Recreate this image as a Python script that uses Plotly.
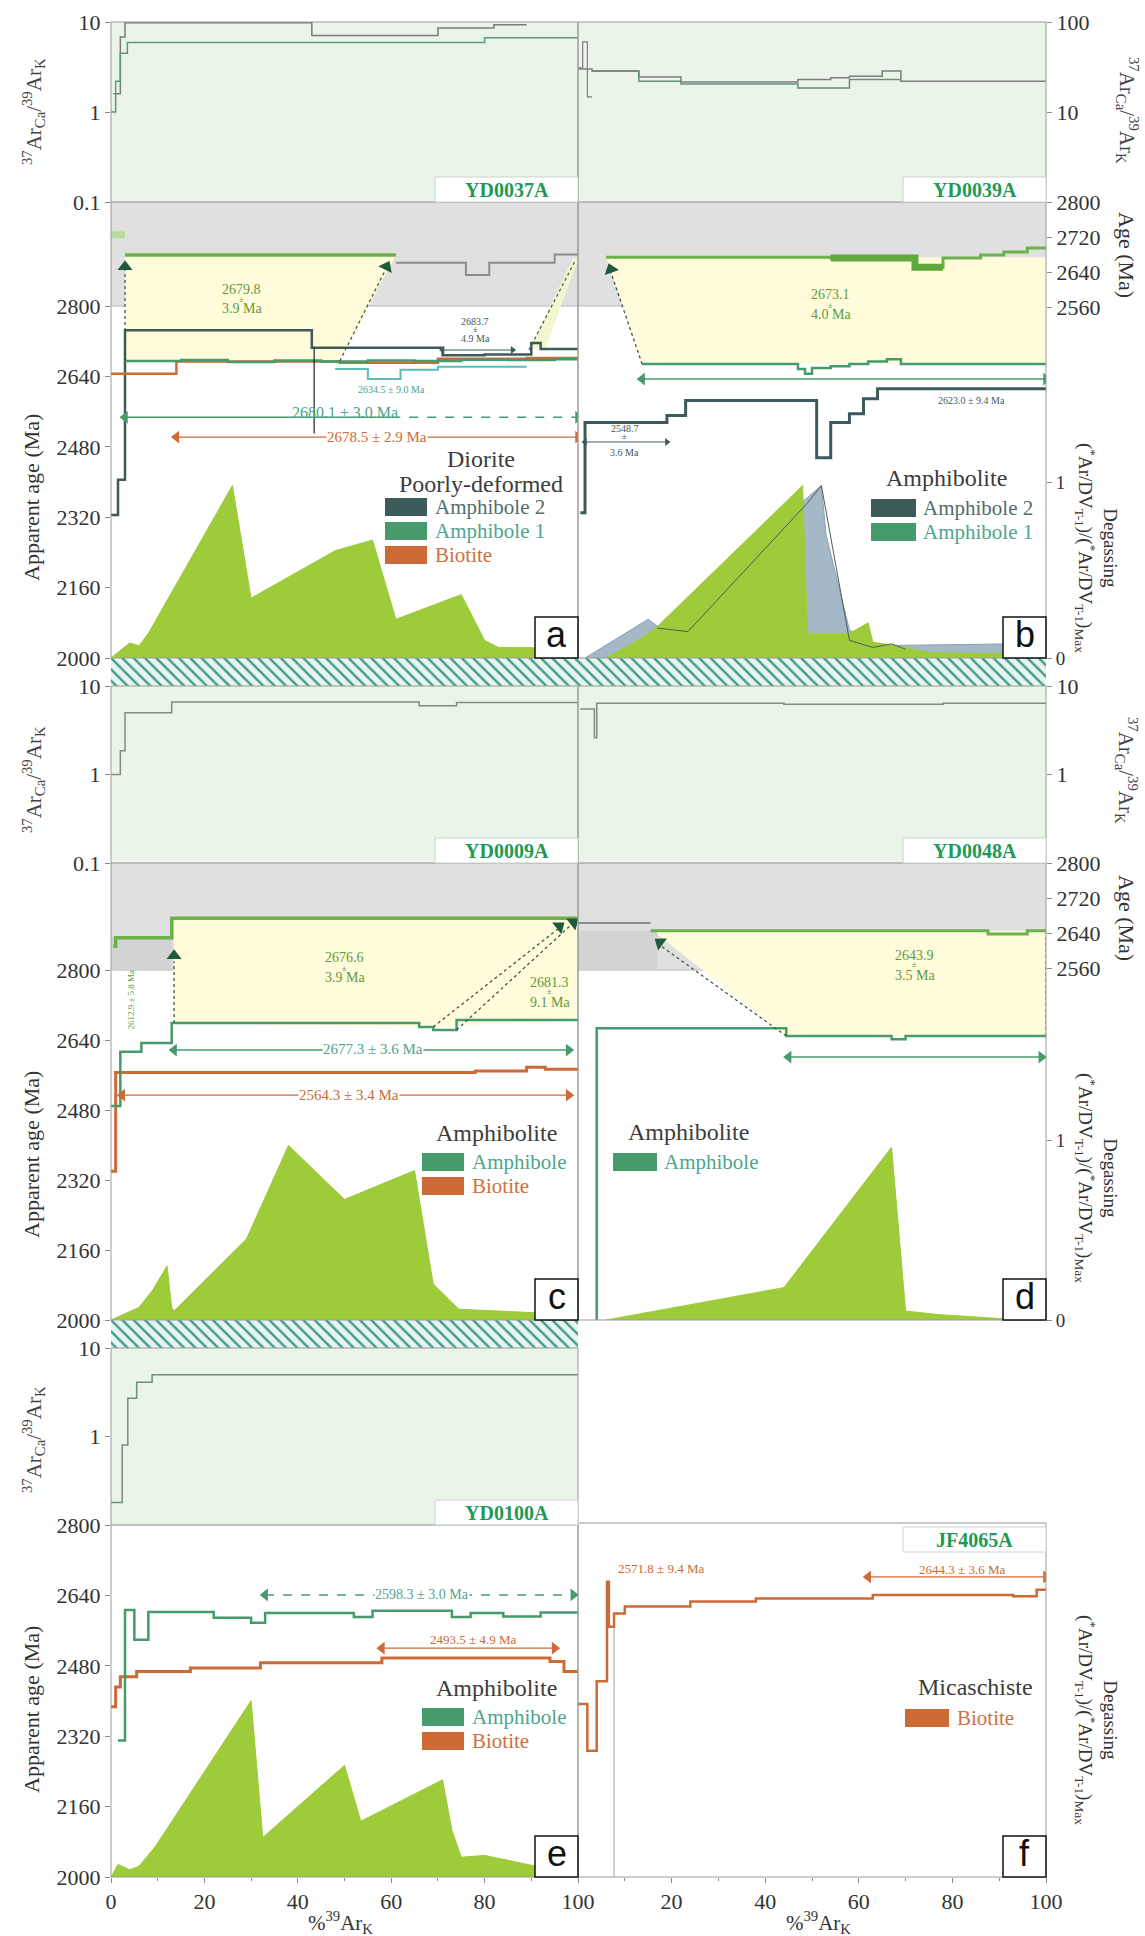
import plotly.graph_objects as go

W, H = 1145, 1936
SERIF = "Liberation Serif, DejaVu Serif, Times New Roman, serif"
SANS = "Liberation Sans, DejaVu Sans, Arial, sans-serif"

# ============================================================ DATA
x_ticks_left = [0, 20, 40, 60, 80, 100]
x_ticks_right = [20, 40, 60, 80, 100]
age_ticks = [2000, 2160, 2320, 2480, 2640, 2800]
band_ticks = [2560, 2640, 2720, 2800]
deg_ticks = [0, 1]
sample_names = {'a': 'YD0037A', 'b': 'YD0039A', 'c': 'YD0009A', 'd': 'YD0048A', 'e': 'YD0100A', 'f': 'JF4065A'}

# ---- (a) YD0037A
a_ratio_amph2_edges = [0.5, 2, 3, 43, 70, 82, 89]
a_ratio_amph2_vals = [1.6, 6.8, 9.8, 7.1, 8.6, 9.3]
a_ratio_amph1_edges = [0, 1, 2, 3.5, 80, 100]
a_ratio_amph1_vals = [1.0, 2.2, 4.5, 5.9, 6.7]
a_band_early_edges = [0, 3]
a_band_early_vals = [2725]
a_band_plat_edges = [3, 61]
a_band_plat_vals = [2679]
a_band_rest_edges = [61, 76, 81, 95, 100]
a_band_rest_vals = [2661, 2633, 2661, 2680]
a_amph1_edges = [3, 15, 25, 35, 45, 55, 65, 75, 85, 95, 100]
a_amph1_vals = [2675, 2677, 2673, 2676, 2674, 2676, 2675, 2678, 2677, 2679]
a_amph1b_edges = [48, 55, 62, 70, 89]
a_amph1b_vals = [2657, 2634, 2655, 2662]
a_amph2_edges = [0, 1.5, 3, 43, 71, 80, 90, 92, 100]
a_amph2_vals = [2325, 2405, 2745, 2705, 2688, 2690, 2716, 2702]
a_bio_edges = [0, 14, 49, 70, 89, 100]
a_bio_vals = [2646, 2674, 2671, 2680, 2682]
a_vline_x = [43.5, 43.5]
a_vline_y = [2705, 2510]
a_deg_x = [0, 4, 6, 8, 26, 30, 48, 56, 61, 75, 80, 83, 90, 100]
a_deg_y = [0, 0.085, 0.07, 0.14, 0.98, 0.34, 0.61, 0.67, 0.22, 0.36, 0.10, 0.06, 0.06, 0.02]
a_plateau = ['2679.8', '3.9 Ma']
a_age_amph1 = '2680.1 ± 3.0 Ma'
a_age_bio = '2678.5 ± 2.9 Ma'
a_age_amph1b = '2634.5 ± 9.0 Ma'
a_age_amph2 = ['2683.7', '4.9 Ma']

# ---- (b) YD0039A
b_ratio_a_edges = [0, 3, 13, 22, 47, 54, 58, 65, 69, 100]
b_ratio_a_vals = [30, 28.5, 24.5, 21.5, 23, 24, 25, 28.5, 22]
b_ratio_b_edges = [3, 13, 22, 47, 58, 69]
b_ratio_b_vals = [28.5, 22, 20.5, 18.5, 23]
b_ratio_spike_edges = [0, 1, 2, 3]
b_ratio_spike_vals = [31, 60, 14.7]
b_band_edges = [6, 54, 71, 72, 78, 86, 91, 96, 100]
b_band_vals = [2674, 2672, 2672, 2651, 2672, 2679, 2686, 2695]
b_band_thick_edges = [54, 71, 72, 78]
b_band_thick_vals = [2672, 2672, 2651]
b_amph1_edges = [13.7, 47, 48.5, 50, 54, 58, 62, 66, 69, 100]
b_amph1_vals = [2668, 2657, 2646, 2659, 2663, 2668, 2674, 2679, 2668]
b_amph2_edges = [0.5, 1.5, 19, 23, 51, 54, 58, 61, 64, 100]
b_amph2_vals = [2330, 2535, 2551, 2585, 2455, 2535, 2555, 2589, 2612]
b_deg_amph1_x = [6, 14, 17, 48, 49, 58, 62, 63, 68, 75, 100]
b_deg_amph1_y = [0, 0.12, 0.18, 0.98, 0.14, 0.14, 0.20, 0.09, 0.07, 0.03, 0.02]
b_deg_amph2_x = [1.5, 15, 17, 52, 53, 58, 63, 92, 100]
b_deg_amph2_y = [0, 0.22, 0.18, 0.98, 0.70, 0.16, 0.07, 0.08, 0.06]
b_deg_line_x = [17, 23.5, 49, 52, 58, 63, 67, 70]
b_deg_line_y = [0.17, 0.15, 0.88, 0.98, 0.10, 0.06, 0.08, 0.05]
b_plateau = ['2673.1', '4.0 Ma']
b_age_amph2_hi = '2623.0 ± 9.4 Ma'
b_age_amph2_lo = ['2548.7', '3.6 Ma']

# ---- (c) YD0009A
c_ratio_edges = [0, 2, 3, 13, 66, 74, 100]
c_ratio_vals = [1.0, 1.85, 5.0, 6.6, 6.0, 6.5]
c_band_edges = [0.5, 1, 13, 100]
c_band_vals = [2610, 2629, 2674]
c_amph_edges = [0, 2, 6.5, 13, 66, 69, 74, 100]
c_amph_vals = [2489, 2613, 2633, 2679, 2670, 2663, 2686]
c_bio_edges = [0, 1, 78, 89, 93, 100]
c_bio_vals = [2340, 2566, 2569, 2578, 2573]
c_deg_x = [0, 6, 9, 12, 13, 13.5, 29, 38, 50, 65, 69, 74.5, 91, 100]
c_deg_y = [0, 0.07, 0.17, 0.30, 0.07, 0.05, 0.45, 0.97, 0.67, 0.83, 0.20, 0.06, 0.04, 0.02]
c_plateau = ['2676.6', '3.9 Ma']
c_plateau2 = ['2681.3', '9.1 Ma']
c_plateau_early = '2612.9 ± 5.8 Ma'
c_age_amph = '2677.3 ± 3.6 Ma'
c_age_bio = '2564.3 ± 3.4 Ma'

# ---- (d) YD0048A
d_ratio_edges = [0.5, 3.5, 4, 44, 78, 100]
d_ratio_vals = [5.5, 2.6, 6.4, 6.2, 6.4]
d_band_early_edges = [0, 15.5]
d_band_early_vals = [2663]
d_band_edges = [15.5, 87.6, 96, 100]
d_band_vals = [2645, 2638, 2645]
d_amph_edges = [0, 4, 44.5, 67, 70, 100]
d_amph_vals = [1990, 2667, 2649, 2642, 2649]
d_deg_x = [6, 44, 67, 70, 77, 92, 100]
d_deg_y = [0, 0.18, 0.96, 0.05, 0.03, 0.005, 0.0]
d_plateau = ['2643.9', '3.5 Ma']

# ---- (e) YD0100A
e_ratio_edges = [0, 2.4, 3.6, 5.5, 8.8, 100]
e_ratio_vals = [0.18, 0.8, 2.7, 4.1, 5.0]
e_amph_edges = [1.5, 3, 5, 8, 22, 30, 33, 52, 56, 73, 77, 84, 92, 100]
e_amph_vals = [2310, 2607, 2539, 2602, 2589, 2578, 2600, 2591, 2605, 2591, 2600, 2592, 2601]
e_bio_edges = [0, 1, 2, 5.5, 17, 32, 58, 94, 97, 100]
e_bio_vals = [2387, 2432, 2455, 2467, 2475, 2487, 2498, 2490, 2467]
e_deg_x = [0, 1.5, 4, 6, 9.5, 30, 32.5, 50, 53.5, 71, 73, 75, 80, 91, 100]
e_deg_y = [0, 0.07, 0.04, 0.06, 0.17, 0.98, 0.22, 0.62, 0.31, 0.54, 0.26, 0.11, 0.12, 0.06, 0.03]
e_age_amph = '2598.3 ± 3.0 Ma'
e_age_bio = '2493.5 ± 4.9 Ma'

# ---- (f) JF4065A
f_bio_edges = [0, 2, 4, 6.2, 6.6, 7.7, 10, 24, 38, 63, 93, 98, 100]
f_bio_vals = [2393, 2287, 2445, 2671, 2569, 2599, 2615, 2626, 2633, 2641, 2638, 2653]
f_vline_x = [7.7, 7.7]
f_vline_y = [2569, 2000]
f_age_first = '2571.8 ± 9.4 Ma'
f_age_bio = '2644.3 ± 3.6 Ma'

legend_titles = {'a': ['Diorite', 'Poorly-deformed'], 'b': ['Amphibolite'], 'c': ['Amphibolite'],
                 'd': ['Amphibolite'], 'e': ['Amphibolite'], 'f': ['Micaschiste']}
legend_items = {'a': ['Amphibole 2', 'Amphibole 1', 'Biotite'], 'b': ['Amphibole 2', 'Amphibole 1'],
                'c': ['Amphibole', 'Biotite'], 'd': ['Amphibole'], 'e': ['Amphibole', 'Biotite'], 'f': ['Biotite']}

# ============================================================ STYLE / GEOMETRY
C_AMPH1 = '#479a6c'
C_AMPH1_T = '#4ea48e'
C_AMPH2 = '#3e5b5b'
C_BIO = '#cd6a36'
C_DEG = '#9dcb3a'
C_DEG2 = '#a5b8c8'
C_PLAT = '#6cb24a'
C_LOGBG = '#eaf4e8'
C_BAND = '#e0e0e1'
C_BAND_DARK = '#d3d3d6'
C_YEL = '#fffbdb'
C_FRAME = '#9a9a9a'
C_ARROWHEAD = '#1f5a3a'
ITEM_COL = {'Amphibole 2': C_AMPH2, 'Amphibole 1': C_AMPH1, 'Amphibole': C_AMPH1, 'Biotite': C_BIO}
ITEM_TXT = {'Amphibole 2': '#4f6d6d', 'Amphibole 1': C_AMPH1_T, 'Amphibole': C_AMPH1_T, 'Biotite': '#d0703e'}

COLX = {'L': (111, 578), 'R': (578, 1046)}
ROWG = {1: dict(log=(22, 202), band=(202, 306), main=(306, 658), deg1=482),
        2: dict(log=(686, 863), band=(863, 970), main=(970, 1320), deg1=1140),
        3: dict(log=(1348, 1525), band=None, main=(1525, 1877), deg1=1697)}
BAND_PPM = 0.4375

fig = go.Figure()
LAY = {}
cnt = {'x': 0, 'y': 0}


def new_axis(kind, **props):
    cnt[kind] += 1
    n = cnt[kind]
    suf = '' if n == 1 else str(n)
    props.setdefault('automargin', False)
    LAY[kind + 'axis' + suf] = props
    return kind + suf


def key_of(ref):
    return ref[0] + 'axis' + ref[1:]


def dom_x(a, b):
    return [a / W, b / W]


def dom_y(top, bot):
    return [1 - bot / H, 1 - top / H]


def ticks(show, vals=None, size=22):
    d = dict(showgrid=False, zeroline=False, showline=False)
    if show:
        d.update(ticks='outside', ticklen=5, tickcolor='#8a8a8a', tickwidth=1, showticklabels=True,
                 tickmode='array', tickvals=vals, ticktext=[str(v) for v in vals],
                 tickfont=dict(family=SERIF, size=size, color='#333333'))
    else:
        d.update(ticks='', showticklabels=False)
    return d


SPEC = [
    dict(k='a', col='L', row=1, logrange=[-1, 1], logticks=[0.1, 1, 10]),
    dict(k='b', col='R', row=1, logrange=[0, 2], logticks=[10, 100]),
    dict(k='c', col='L', row=2, logrange=[-1, 1], logticks=[0.1, 1, 10]),
    dict(k='d', col='R', row=2, logrange=[-1, 1], logticks=[1, 10]),
    dict(k='e', col='L', row=3, logrange=[-1, 1], logticks=[1, 10]),
    dict(k='f', col='R', row=3, logrange=None, logticks=None),
]
AX = {}
for s in SPEC:
    k, col, row = s['k'], s['col'], s['row']
    g = ROWG[row]
    left = col == 'L'
    side = 'left' if left else 'right'
    if row == 3:
        xr = new_axis('x', domain=dom_x(*COLX[col]), range=[0, 100],
                      minor=dict(ticks='outside', ticklen=3, tickcolor='#8a8a8a', dtick=10, showgrid=False),
                      **ticks(True, x_ticks_left if left else x_ticks_right, 22))
    else:
        xr = new_axis('x', domain=dom_x(*COLX[col]), range=[0, 100], visible=False)
    top = g['band'][0] if g['band'] else g['main'][0]
    bot = g['main'][1]
    ppm = (g['main'][1] - g['main'][0]) / 800.0
    ymain = new_axis('y', domain=dom_y(top, bot), range=[2000, 2000 + (bot - top) / ppm],
                     anchor=xr, side=side, **ticks(left, age_ticks))
    ydeg = new_axis('y', overlaying=ymain, side='right', anchor=xr,
                    range=[0, (bot - top) / (bot - g['deg1'])], **ticks(not left, deg_ticks, 19))
    LAY[key_of(xr)]['anchor'] = ymain
    ylog = yband = None
    if s['logrange']:
        ylog = new_axis('y', type='log', domain=dom_y(*g['log']), range=s['logrange'],
                        anchor=xr, side=side, **ticks(True, s['logticks']))
    if g['band']:
        bt = g['band'][0]
        yband = new_axis('y', domain=dom_y(bt, bt + 108), range=[2800 - 108 / BAND_PPM, 2800],
                         anchor=xr, side=side, **ticks(not left, band_ticks))
    AX[k] = dict(x=xr, main=ymain, deg=ydeg, log=ylog, band=yband, col=col, row=row)


def band_to_main(k, v):
    """map a value on the panel's band axis to the same vertical position on its main axis"""
    bk = LAY[key_of(AX[k]['band'])]
    mk = LAY[key_of(AX[k]['main'])]
    p = bk['domain'][0] + (v - bk['range'][0]) / (bk['range'][1] - bk['range'][0]) * (bk['domain'][1] - bk['domain'][0])
    return mk['range'][0] + (p - mk['domain'][0]) / (mk['domain'][1] - mk['domain'][0]) * (mk['range'][1] - mk['range'][0])


def add_steps(k, axis, edges, vals, color, width=2.5, dash=None):
    x = list(edges)
    y = list(vals) + [vals[-1]]
    fig.add_trace(go.Scatter(x=x, y=y, xaxis=AX[k]['x'], yaxis=AX[k][axis], mode='lines',
                             line=dict(color=color, width=width, shape='hv', dash=dash),
                             hoverinfo='skip', showlegend=False))


def add_line(k, axis, xs, ys, color, width=1.2, dash=None):
    fig.add_trace(go.Scatter(x=xs, y=ys, xaxis=AX[k]['x'], yaxis=AX[k][axis], mode='lines',
                             line=dict(color=color, width=width, dash=dash),
                             hoverinfo='skip', showlegend=False))


def add_poly(k, xs, ys, color, axis='main'):
    fig.add_trace(go.Scatter(x=xs, y=ys, xaxis=AX[k]['x'], yaxis=AX[k][axis], mode='lines',
                             fill='toself', fillcolor=color, line=dict(width=0, color=color),
                             hoverinfo='skip', showlegend=False))


def add_deg(k, xs, ys, fill, line=None):
    fig.add_trace(go.Scatter(x=xs, y=ys, xaxis=AX[k]['x'], yaxis=AX[k]['deg'], mode='lines',
                             fill='tozeroy', fillcolor=fill, line=dict(color=line or fill, width=1),
                             hoverinfo='skip', showlegend=False))


def add_head(k, axis, x, y, angle, color=C_ARROWHEAD, size=13):
    fig.add_trace(go.Scatter(x=[x], y=[y], xaxis=AX[k]['x'], yaxis=AX[k][axis], mode='markers',
                             marker=dict(symbol='triangle-up', angle=angle, size=size, color=color),
                             hoverinfo='skip', showlegend=False))


def add_arrow(k, x0, x1, y, color, dash=None, width=1.6, size=11, dash_from=None):
    if dash_from is None:
        add_line(k, 'main', [x0, x1], [y, y], color, width, dash)
    else:
        add_line(k, 'main', [x0, dash_from], [y, y], color, width)
        add_line(k, 'main', [dash_from, x1], [y, y], color, width, 'dash')
    fig.add_trace(go.Scatter(x=[x0, x1], y=[y, y], xaxis=AX[k]['x'], yaxis=AX[k]['main'], mode='markers',
                             marker=dict(symbol=['triangle-left', 'triangle-right'], size=size, color=color),
                             hoverinfo='skip', showlegend=False))


def text_data(k, x, y, txt, size, color, bg=None, axis='main', angle=0):
    fig.add_annotation(x=x, y=y, xref=AX[k]['x'], yref=AX[k][axis], text=txt, showarrow=False,
                       xanchor='center', yanchor='middle',
                       font=dict(family=SERIF, size=size, color=color), bgcolor=bg, textangle=angle, borderpad=0)


def text_px(k, x, ypx, txt, size, color, angle=0):
    fig.add_annotation(x=x, y=1 - ypx / H, xref=AX[k]['x'], yref='paper', text=txt, showarrow=False,
                       xanchor='center', yanchor='middle', textangle=angle,
                       font=dict(family=SERIF, size=size, color=color))


def plateau_text(k, x, ytop, lines, color='#5e9a3c', size=14):
    text_px(k, x, ytop, lines[0], size, color)
    text_px(k, x, ytop + 10, '±', 8, color)
    text_px(k, x, ytop + 20, lines[1], size, color)


shapes = []


def rect(x0, y0, x1, y1, fill=None, line=None, lw=1, layer='below'):
    shapes.append(dict(type='rect', xref='paper', yref='paper', x0=x0 / W, x1=x1 / W,
                       y0=1 - y1 / H, y1=1 - y0 / H, fillcolor=fill or 'rgba(0,0,0,0)',
                       line=dict(color=line or 'rgba(0,0,0,0)', width=lw if line else 0), layer=layer))


def hline(x0, x1, y, color, lw=1, layer='above'):
    shapes.append(dict(type='line', xref='paper', yref='paper', x0=x0 / W, x1=x1 / W,
                       y0=1 - y / H, y1=1 - y / H, line=dict(color=color, width=lw), layer=layer))


annots = []


def ann_px(x, y, txt, size, color, family=SERIF, angle=0, xanchor='center'):
    annots.append(dict(x=x / W, y=1 - y / H, xref='paper', yref='paper', text=txt, showarrow=False,
                       textangle=angle, xanchor=xanchor, yanchor='middle',
                       font=dict(family=family, size=size, color=color)))


# ============================================================ BACKGROUNDS
for k, a in AX.items():
    g = ROWG[a['row']]
    x0, x1 = COLX[a['col']]
    if a['log']:
        rect(x0, g['log'][0], x1, g['log'][1], fill=C_LOGBG)
    if g['band']:
        rect(x0, g['band'][0], x1, g['band'][1], fill=C_BAND)
        hline(x0, x1, g['band'][1], '#b8b8b8', 1, 'below')

# hatched strips
hx1 = new_axis('x', domain=dom_x(111, 1046), range=[0, 1], visible=False)
hy1 = new_axis('y', domain=dom_y(658, 686), range=[0, 1], visible=False, anchor=hx1)
hx2 = new_axis('x', domain=dom_x(111, 578), range=[0, 1], visible=False)
hy2 = new_axis('y', domain=dom_y(1320, 1348), range=[0, 1], visible=False, anchor=hx2)
LAY[key_of(hx1)]['anchor'] = hy1
LAY[key_of(hx2)]['anchor'] = hy2
for hx, hy in [(hx1, hy1), (hx2, hy2)]:
    fig.add_trace(go.Bar(x=[0.5], y=[1], width=[1], base=0, xaxis=hx, yaxis=hy,
                         marker=dict(color='#e8f5ee', line=dict(width=0),
                                     pattern=dict(shape='\\', fgcolor='#3f9a8c', bgcolor='#e8f5ee',
                                                  size=8, solidity=0.3, fillmode='replace')),
                         hoverinfo='skip', showlegend=False))

# ============================================================ PANEL a
k = 'a'
add_steps(k, 'log', a_ratio_amph2_edges, a_ratio_amph2_vals, '#7a7a7a', 1.5)
add_steps(k, 'log', a_ratio_amph1_edges, a_ratio_amph1_vals, '#5e9c78', 1.5)
pt = band_to_main(k, a_band_plat_vals[0])
add_poly(k, [3, 61, 49, 3], [pt, pt, a_amph1_vals[0], a_amph1_vals[0]], C_YEL)
add_poly(k, [89.5, 93, 100, 99], [2703, 2703, band_to_main(k, 2668), band_to_main(k, 2672)], '#f3f6cf')
add_steps(k, 'band', a_band_early_edges, a_band_early_vals, '#b9dc9c', 7)
add_steps(k, 'band', a_band_rest_edges, a_band_rest_vals, '#8c8c8c', 2)
add_steps(k, 'band', a_band_plat_edges, a_band_plat_vals, C_PLAT, 3.5)
add_steps(k, 'main', a_amph2_edges, a_amph2_vals, C_AMPH2, 2.5)
add_steps(k, 'main', a_bio_edges, a_bio_vals, C_BIO, 2.5)
add_steps(k, 'main', a_amph1b_edges, a_amph1b_vals, '#5bbdb3', 2)
add_steps(k, 'main', a_amph1_edges, a_amph1_vals, C_AMPH1, 2.5)
add_line(k, 'main', a_vline_x, a_vline_y, '#222222', 1.2)
add_line(k, 'main', [3, 3], [a_amph1_vals[0], band_to_main(k, 2650)], '#3a5a40', 1.3, 'dot')
add_line(k, 'main', [49, 59], [a_amph1_vals[0], band_to_main(k, 2650)], '#3a5a40', 1.3, 'dot')
add_line(k, 'main', [89.5, 99.5], [2700, band_to_main(k, 2668)], '#3a5a40', 1.2, 'dot')
add_head(k, 'band', 3, 2652, 0)
add_head(k, 'band', 59, 2652, 27)
add_arrow(k, 3, 100, 2547, C_AMPH1, dash_from=60)
add_arrow(k, 14, 100, 2502, C_BIO, width=1.2)
add_arrow(k, 71, 86, 2700, C_AMPH2, width=1, size=7)
add_deg(k, a_deg_x, a_deg_y, C_DEG)
plateau_text(k, 28, 289, a_plateau)
text_data(k, 50, 2557, a_age_amph1, 16, C_AMPH1_T)
text_data(k, 57, 2502, a_age_bio, 15, C_BIO, bg='white')
text_data(k, 60, 2611, a_age_amph1b, 10, C_AMPH1_T)
text_px(k, 78, 322, a_age_amph2[0], 10, C_AMPH2)
text_px(k, 78, 330, '±', 8, C_AMPH2)
text_px(k, 78, 338, a_age_amph2[1], 10, C_AMPH2)

# ============================================================ PANEL b
k = 'b'
add_steps(k, 'log', b_ratio_a_edges, b_ratio_a_vals, '#7d7d7d', 1.5)
add_steps(k, 'log', b_ratio_b_edges, b_ratio_b_vals, '#6a8f7a', 1.5)
add_steps(k, 'log', b_ratio_spike_edges, b_ratio_spike_vals, '#7d7d7d', 1.2)
pt = band_to_main(k, b_band_vals[0])
add_poly(k, [6, 100, 100, 13.7], [pt, pt, b_amph1_vals[-1], b_amph1_vals[0]], C_YEL)
add_steps(k, 'band', b_band_edges, b_band_vals, C_PLAT, 3)
add_steps(k, 'band', b_band_thick_edges, b_band_thick_vals, '#5ea83e', 7)
add_steps(k, 'main', b_amph2_edges, b_amph2_vals, C_AMPH2, 3)
add_steps(k, 'main', b_amph1_edges, b_amph1_vals, C_AMPH1, 2.5)
add_line(k, 'main', [13.7, 7], [b_amph1_vals[0], band_to_main(k, 2640)], '#3a5a40', 1.3, 'dot')
add_head(k, 'band', 7, 2646, -19)
add_arrow(k, 13.7, 100, 2634, C_AMPH1)
add_arrow(k, 1.5, 19, 2491, C_AMPH2, width=1, size=7)
add_deg(k, b_deg_amph2_x, b_deg_amph2_y, C_DEG2, '#8aa0b2')
add_deg(k, b_deg_amph1_x, b_deg_amph1_y, C_DEG)
add_line(k, 'deg', b_deg_line_x, b_deg_line_y, '#4a5f55', 1)
plateau_text(k, 54, 295, b_plateau)
text_data(k, 84, 2586, b_age_amph2_hi, 10, C_AMPH2)
text_px(k, 10, 428, b_age_amph2_lo[0], 10, C_AMPH2)
text_px(k, 10, 437, '±', 8, C_AMPH2)
text_px(k, 10, 452, b_age_amph2_lo[1], 10, C_AMPH2)

# ============================================================ PANEL c
k = 'c'
add_steps(k, 'log', c_ratio_edges, c_ratio_vals, '#7d8f84', 1.5)
blo = LAY[key_of(AX[k]['band'])]['range'][0]
add_poly(k, [0, 13, 13, 0], [c_band_vals[1], c_band_vals[1], blo, blo], C_BAND_DARK, axis='band')
pt = band_to_main(k, c_band_vals[-1])
add_poly(k, [13.5, 100, 100, 69, 13.5], [pt, pt, c_amph_vals[-1], c_amph_vals[4], c_amph_vals[3]], C_YEL)
add_steps(k, 'band', c_band_edges, c_band_vals, C_PLAT, 3.5)
add_steps(k, 'main', c_bio_edges, c_bio_vals, C_BIO, 3)
add_steps(k, 'main', c_amph_edges, c_amph_vals, C_AMPH1, 2.5)
add_line(k, 'main', [13.5, 13.5], [c_amph_vals[3], band_to_main(k, 2575)], '#3a5a40', 1.3, 'dot')
add_line(k, 'main', [69, 97], [c_amph_vals[4], band_to_main(k, 2660)], '#3a5a40', 1.3, 'dot')
add_line(k, 'main', [74, 99.5], [c_amph_vals[5], band_to_main(k, 2668)], '#3a5a40', 1.3, 'dot')
add_head(k, 'band', 13.5, 2588, 0)
add_head(k, 'band', 96, 2655, 52)
add_head(k, 'band', 99, 2664, 52)
add_arrow(k, 13.5, 98, 2617, C_AMPH1)
add_arrow(k, 2.4, 98, 2514, C_BIO, width=1.2)
add_deg(k, c_deg_x, c_deg_y, C_DEG)
plateau_text(k, 50, 958, c_plateau)
plateau_text(k, 94, 982, c_plateau2)
text_px(k, 4.2, 1000, c_plateau_early, 9, '#5e9a3c', angle=-90)
text_data(k, 56, 2619, c_age_amph, 15, C_AMPH1_T, bg='white')
text_data(k, 51, 2514, c_age_bio, 15, C_BIO, bg='white')

# ============================================================ PANEL d
k = 'd'
add_steps(k, 'log', d_ratio_edges, d_ratio_vals, '#7d8f84', 1.5)
blo = LAY[key_of(AX[k]['band'])]['range'][0]
add_poly(k, [0, 17, 17, 0], [d_band_vals[0], d_band_vals[0], blo, blo], C_BAND_DARK, axis='band')
pt = band_to_main(k, d_band_vals[0])
add_poly(k, [16, 100, 100, 44.5], [pt, pt, d_amph_vals[2], d_amph_vals[2]], C_YEL)
add_steps(k, 'band', d_band_early_edges, d_band_early_vals, '#8c8c8c', 2)
add_steps(k, 'band', d_band_edges, d_band_vals, C_PLAT, 3)
add_steps(k, 'main', d_amph_edges, d_amph_vals, C_AMPH1, 2.5)
add_line(k, 'main', [44.5, 17.5], [d_amph_vals[2], band_to_main(k, 2612)], '#3a5a40', 1.3, 'dot')
add_line(k, 'main', [100, 100], [d_amph_vals[-1], pt], '#3a5a40', 1.2, 'dot')
add_head(k, 'band', 17.5, 2618, -54)
add_arrow(k, 45, 99, 2601, C_AMPH1)
add_deg(k, d_deg_x, d_deg_y, C_DEG)
plateau_text(k, 72, 955, d_plateau)

# ============================================================ PANEL e
k = 'e'
add_steps(k, 'log', e_ratio_edges, e_ratio_vals, '#6f8f7a', 1.5)
add_steps(k, 'main', e_bio_edges, e_bio_vals, C_BIO, 3)
add_steps(k, 'main', e_amph_edges, e_amph_vals, C_AMPH1, 2.5)
add_arrow(k, 33, 99, 2641, C_AMPH1, dash='dash')
add_arrow(k, 58, 95, 2520, C_BIO, width=1.2)
add_deg(k, e_deg_x, e_deg_y, C_DEG)
text_data(k, 66.5, 2641, e_age_amph, 14, C_AMPH1_T, bg='white')
text_data(k, 77.6, 2540, e_age_bio, 13, C_BIO)

# ============================================================ PANEL f
k = 'f'
add_line(k, 'main', f_vline_x, f_vline_y, '#b0b0b0', 1.2)
add_steps(k, 'main', f_bio_edges, f_bio_vals, C_BIO, 2.5)
add_arrow(k, 62, 100, 2682, C_BIO, width=1.2)
text_data(k, 17.7, 2702, f_age_first, 13, C_BIO)
text_data(k, 82, 2698, f_age_bio, 13, C_BIO)

# ============================================================ FRAMES, BOXES, LEGENDS
for k, a in AX.items():
    g = ROWG[a['row']]
    x0, x1 = COLX[a['col']]
    top = g['log'][0] if a['log'] else 1523
    rect(x0, top, x1, g['main'][1], line=C_FRAME, lw=1, layer='above')
    if a['log']:
        hline(x0, x1, g['log'][1], '#8f8f8f', 1.2)

SB = {'a': (435, 177), 'b': (903, 177), 'c': (435, 838), 'd': (903, 838), 'e': (435, 1500), 'f': (903, 1527)}
for k, (bx, by) in SB.items():
    bx1 = COLX[AX[k]['col']][1]
    rect(bx, by, bx1, by + 25, fill='white', line='#c9d6c9', lw=1, layer='above')
    ann_px((bx + bx1) / 2, by + 13, '<b>%s</b>' % sample_names[k], 20, '#1f9a55')

LB = {'a': (535, 617, 658), 'b': (1003, 617, 658), 'c': (535, 1279, 1320), 'd': (1003, 1279, 1320),
      'e': (535, 1836, 1877), 'f': (1003, 1836, 1877)}
for k, (bx, y0, y1) in LB.items():
    rect(bx, y0, bx + 43, y1, fill='white', line='#111111', lw=1.5, layer='above')
    ann_px(bx + 21.5, (y0 + y1) / 2 - 3, k, 36, '#111111', family=SANS)

LG = {'a': dict(cx=481, hy=[459, 484], sw=(385, 427), y0=507, tx=433),
      'b': dict(cx=946, hy=[478], sw=(871, 916), y0=508, tx=921),
      'c': dict(cx=496, hy=[1133], sw=(422, 464), y0=1162, tx=470),
      'd': dict(cx=688, hy=[1132], sw=(613, 657), y0=1162, tx=662),
      'e': dict(cx=496, hy=[1688], sw=(422, 464), y0=1717, tx=470),
      'f': dict(cx=976, hy=[1687], sw=(905, 949), y0=1718, tx=955)}
for k, L in LG.items():
    for t, hy in zip(legend_titles[k], L['hy']):
        ann_px(L['cx'], hy, t, 24, '#3c3c3c')
    for i, item in enumerate(legend_items[k]):
        yc = L['y0'] + i * 24
        rect(L['sw'][0], yc - 9, L['sw'][1], yc + 9, fill=ITEM_COL[item], layer='above')
        ann_px(L['tx'], yc, item, 21, ITEM_TXT[item], xanchor='left')

RATIO = '<sup>37</sup>Ar<sub>Ca</sub>/<sup>39</sup>Ar<sub>K</sub>'
DEGT = 'Degassing<br>(<sup>*</sup>Ar/DV<sub>T-1</sub>)/(<sup>*</sup>Ar/DV<sub>T-1</sub>)<sub>Max</sub>'
for yc in [112, 780, 1440]:
    ann_px(33, yc, RATIO, 21, '#444444', angle=-90)
for yc in [498, 1155, 1710]:
    ann_px(31, yc, 'Apparent age (Ma)', 22, '#333333', angle=-90)
for yc in [110, 770]:
    ann_px(1127, yc, RATIO, 21, '#444444', angle=90)
for yc in [255, 918]:
    ann_px(1127, yc, 'Age (Ma)', 22, '#333333', angle=90)
for yc in [548, 1178, 1720]:
    ann_px(1097, yc, DEGT, 19, '#333333', angle=90)
for xc in [340, 818]:
    ann_px(xc, 1922, '%<sup>39</sup>Ar<sub>K</sub>', 21, '#333333')

fig.update_layout(**LAY)
fig.update_layout(width=W, height=H, autosize=False,
                  margin=dict(l=0, r=0, t=0, b=0, pad=0, autoexpand=False), showlegend=False,
                  paper_bgcolor='white', plot_bgcolor='rgba(0,0,0,0)', shapes=shapes,
                  annotations=list(fig.layout.annotations) + annots,
                  font=dict(family=SERIF))
fig.write_html("out.html", config={'displayModeBar': False, 'responsive': False},
               post_script="document.body.style.margin='0px';document.body.style.overflow='hidden';")
